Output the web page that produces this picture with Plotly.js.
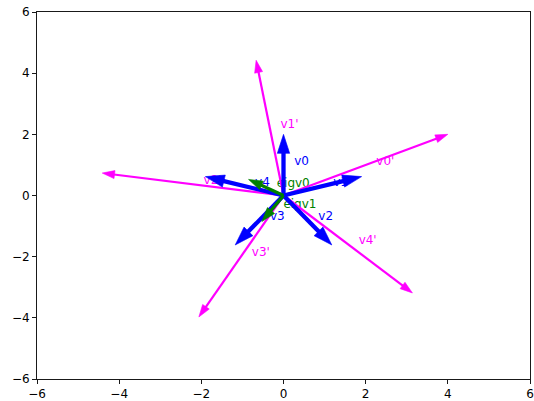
<!DOCTYPE html>
<html><head><meta charset="utf-8">
<script src="https://cdn.plot.ly/plotly-3.0.1.min.js"></script>
<style>html,body{margin:0;padding:0;background:#fff}</style>
</head><body><div id="chart" style="width:534px;height:401px"></div>
<script>
const vNames = ['v0', 'v1', 'v2', 'v3', 'v4'];
const vX = [0, 1.902, 1.176, -1.176, -1.902];
const vY = [2, 0.618, -1.618, -1.618, 0.618];
const vpNames = ["v0'", "v1'", "v2'", "v3'", "v4'"];
const vpX = [4, -0.666, -4.412, -2.060, 3.138];
const vpY = [2, 4.422, 0.734, -3.970, -3.186];
const eigNames = ['eigv0', 'eigv1'];
const eigX = [-0.851, -0.526];
const eigY = [0.526, -0.851];
const axisTicks = [-6, -4, -2, 0, 2, 4, 6];

const FONT = 'DejaVu Sans';
const FS = 12;

function labelTrace(names, xs, ys, color) {
  return {
    type: 'scatter', mode: 'text',
    x: xs.map(v => v / 2 + 0.26), y: ys.map(v => v / 2 - 0.095),
    text: names, textposition: 'top right',
    textfont: {family: FONT, size: FS, color: color},
    hoverinfo: 'skip', showlegend: false, cliponaxis: false
  };
}
function arrowTraces(xs, ys, color, width, head) {
  return xs.map((x, i) => ({
    type: 'scatter', mode: 'lines+markers',
    x: [0, x], y: [0, ys[i]],
    opacity: 1,
    line: {color: color, width: width},
    marker: {symbol: ['circle', 'arrow'], size: [0, head], color: color, opacity: 1,
             angleref: 'previous', line: {width: 0.6, color: color}},
    hoverinfo: 'skip', showlegend: false, cliponaxis: false
  }));
}

const data = [
  labelTrace(vNames, vX, vY, '#0000ff'),
  labelTrace(vpNames, vpX, vpY, '#ff00ff'),
  labelTrace(eigNames, eigX, eigY, '#008000'),
  ...arrowTraces(vpX, vpY, '#ff00ff', 2.2, 13),
  ...arrowTraces(vX, vY, '#0000ff', 4.3, 20),
  ...arrowTraces(eigX, eigY, '#008000', 3.2, 15)
];

function axis() {
  return {
    range: [-6, 6], tickvals: axisTicks, ticks: 'outside', ticklen: 4, tickwidth: 0.9,
    tickcolor: 'black', showline: true, linecolor: 'black', linewidth: 0.9, mirror: true,
    showgrid: false, zeroline: false, fixedrange: true,
    tickfont: {family: FONT, size: FS, color: 'black'}
  };
}

const layout = {
  width: 534, height: 401,
  margin: {l: 37, r: 4, t: 12, b: 22},
  paper_bgcolor: 'white', plot_bgcolor: 'white', showlegend: false,
  xaxis: axis(), yaxis: axis()
};

Plotly.newPlot('chart', data, layout, {displayModeBar: false, staticPlot: true});
</script>
</body></html>
